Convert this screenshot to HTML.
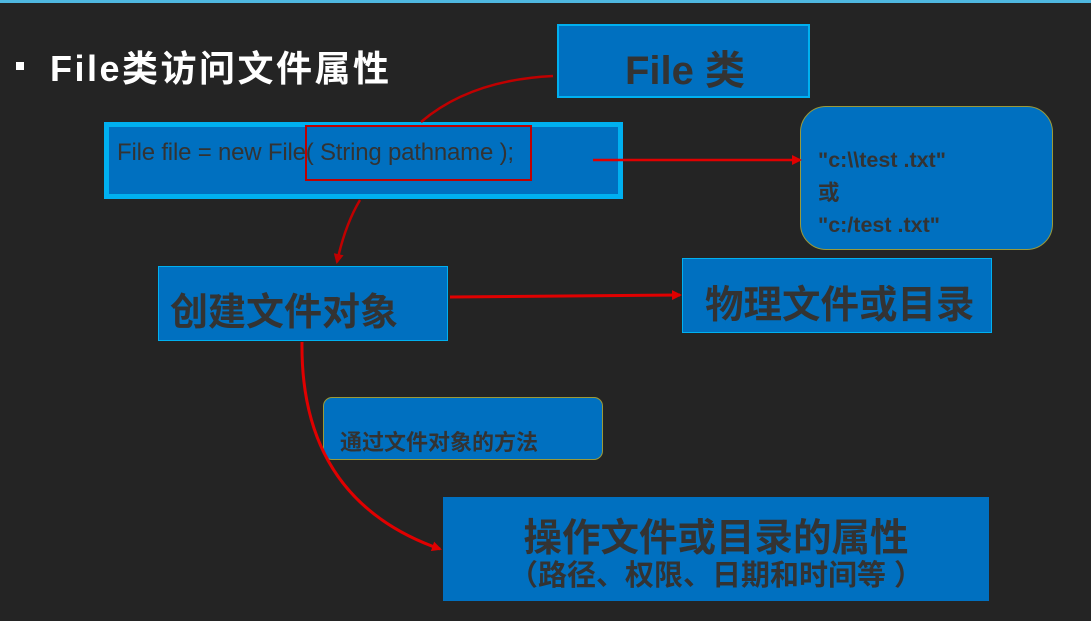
<!DOCTYPE html>
<html><head><meta charset="utf-8"><style>
body{margin:0;width:1091px;height:621px;overflow:hidden;background:#242424;position:relative;font-family:"Liberation Sans","Noto Sans CJK SC",sans-serif;}
.b{position:absolute;box-sizing:border-box;background:#0070c0;color:#333;}
.t{position:absolute;white-space:nowrap;}
</style></head><body>
<div style="position:absolute;left:0;top:0;width:1091px;height:3px;background:#4fb8e0"></div>
<div style="position:absolute;left:16px;top:62px;width:8px;height:8px;background:#fff"></div>
<div class="t" style="left:50px;top:40px;font-size:36px;letter-spacing:2.5px;font-weight:bold;color:#fff;">File类访问文件属性</div>

<div class="b" style="left:557px;top:24px;width:253px;height:74px;border:2px solid #00b0f0;"></div>
<div class="t" style="left:625px;top:38px;font-size:40px;font-weight:bold;color:#333">File 类</div>

<div class="b" style="left:104px;top:122px;width:519px;height:77px;border:5px solid #00b0f0;"></div>
<div class="t" style="left:117px;top:139px;font-size:24px;color:#333;letter-spacing:-0.2px">File file = new File( String pathname );</div>
<div style="position:absolute;left:305px;top:125px;width:227px;height:56px;box-sizing:border-box;border:2.5px solid #c00000"></div>

<div class="b" style="left:800px;top:106px;width:253px;height:144px;border:1.5px solid #9a9a3a;border-radius:26px;"></div>
<div class="t" style="left:818px;top:144px;font-size:21.5px;font-weight:bold;line-height:32.5px;color:#333">"c:\\test .txt"<br>或<br>"c:/test .txt"</div>

<div class="b" style="left:158px;top:266px;width:290px;height:75px;border:1.5px solid #00b0f0;"></div>
<div class="t" style="left:170px;top:281px;font-size:38px;font-weight:bold;color:#333">创建文件对象</div>

<div class="b" style="left:682px;top:258px;width:310px;height:75px;border:1.5px solid #00b0f0;"></div>
<div class="t" style="left:705px;top:274px;font-size:38.5px;font-weight:bold;color:#333">物理文件或目录</div>

<div class="b" style="left:323px;top:397px;width:280px;height:63px;border:1.5px solid #9a9a3a;border-radius:9px;"></div>
<div class="t" style="left:340px;top:425px;font-size:22px;font-weight:bold;color:#333">通过文件对象的方法</div>

<div class="b" style="left:443px;top:497px;width:546px;height:104px;"></div>
<div class="t" style="left:443px;width:546px;top:507px;text-align:center;font-size:38.5px;font-weight:bold;color:#333">操作文件或目录的属性</div>
<div class="t" style="left:443px;width:546px;top:552px;text-align:center;font-size:29px;font-weight:bold;color:#333">（路径、权限、日期和时间等 ）</div>

<svg width="1091" height="621" style="position:absolute;left:0;top:0">
<defs>
<marker id="a" markerWidth="10" markerHeight="10" refX="8" refY="5" orient="auto" markerUnits="userSpaceOnUse"><path d="M0,0 L10,5 L0,10 z" fill="#e00000"/></marker>
<marker id="a2" markerWidth="10" markerHeight="10" refX="8" refY="5" orient="auto" markerUnits="userSpaceOnUse"><path d="M0,0 L10,5 L0,10 z" fill="#c00000"/></marker>
</defs>
<path d="M553,76 Q470,80 421,122" stroke="#c00000" stroke-width="2.5" fill="none"/>
<path d="M360,200 Q345,225 337,262" stroke="#c00000" stroke-width="2.5" fill="none" marker-end="url(#a2)"/>
<line x1="593" y1="160" x2="800" y2="160" stroke="#e00000" stroke-width="2.5" marker-end="url(#a)"/>
<line x1="450" y1="297" x2="680" y2="295" stroke="#e00000" stroke-width="3" marker-end="url(#a)"/>
<path d="M302,342 Q300,500 440,549" stroke="#e00000" stroke-width="3" fill="none" marker-end="url(#a)"/>
</svg>
</body></html>
